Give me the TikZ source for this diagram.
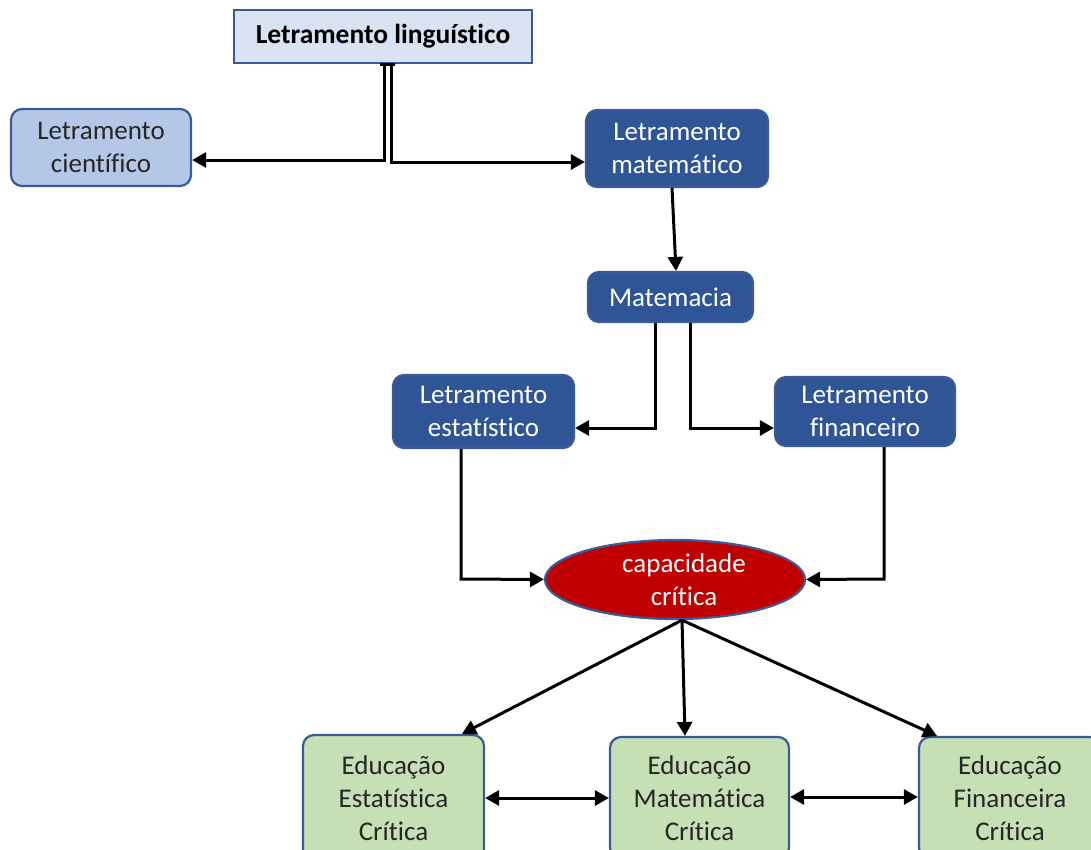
\documentclass[tikz,border=0pt]{standalone}
\usepackage{fontspec}
\setmainfont{Carlito}[Ligatures=NoCommon]
\usetikzlibrary{arrows.meta,shapes.geometric,calc}
\definecolor{bordc}{HTML}{3A5A98}
\definecolor{dkblue}{HTML}{2F5597}
\definecolor{ltblue}{HTML}{B4C7E7}
\definecolor{vltblue}{HTML}{DAE3F3}
\definecolor{ltgreen}{HTML}{C5E0B4}
\definecolor{dkred}{HTML}{C00000}
\begin{document}
\begin{tikzpicture}[x=1pt,y=-1pt,
  base/.style={draw=bordc, line width=2.2pt, align=center, inner sep=0pt,
    font=\fontsize{27}{33}\selectfont},
  rbox/.style={base, rounded corners=11pt},
  darkbox/.style={rbox, fill=dkblue, text=white},
  greenbox/.style={rbox, fill=ltgreen, text=black!85},
  conn/.style={line width=3pt, draw=black},
  arr/.style={conn, -{Triangle[length=14pt,width=15pt]}},
  darr/.style={conn, {Triangle[length=14pt,width=15pt]}-{Triangle[length=14pt,width=15pt]}}]
\path[use as bounding box, clip] (0,0) rectangle (1091,849);
\fill[white] (0,0) rectangle (1091,849);

\node[base, fill=vltblue, minimum width=298pt, minimum height=53pt,
  font=\fontsize{27.5}{33}\selectfont\bfseries] (ling) at (383,36.5) {Letramento linguístico};
\node[rbox, fill=ltblue, text=black!85, minimum width=180pt, minimum height=77pt] (cien) at (101,147.5) {Letramento\\científico};
\node[darkbox, minimum width=182pt, minimum height=77pt] (mat) at (677,148.5) {Letramento\\matemático};
\node[darkbox, minimum width=165pt, minimum height=50pt] (matm) at (670.5,297) {Matemacia};
\node[darkbox, minimum width=181pt, minimum height=73pt] (est) at (483.5,411.5) {Letramento\\estatístico};
\node[darkbox, minimum width=180pt, minimum height=69pt] (fin) at (865,411.5) {Letramento\\financeiro};
\node[ellipse, draw=bordc, line width=2.2pt, fill=dkred, text=white, inner sep=0pt,
  minimum width=260pt, minimum height=79pt, align=center,
  font=\fontsize{27}{33}\selectfont] (ell) at (675,579.5) {};
\node[align=center, text=white, font=\fontsize{27}{33}\selectfont] (elltext) at (684,580) {capacidade\\crítica};
\node[greenbox, minimum width=181pt, minimum height=126pt] (eec) at (393.5,798) {Educação\\Estatística\\Crítica};
\node[greenbox, minimum width=179pt, minimum height=122pt] (emc) at (699.5,798) {Educação\\Matemática\\Crítica};
\node[greenbox, minimum width=182pt, minimum height=122pt] (efc) at (1010,798) {Educação\\Financeira\\Crítica};

% top connectors (double stem)
\draw[conn] (380,0 |- ling.south) -- (395,0 |- ling.south);
\draw[arr] (384,0 |- ling.south) -- (384,160) -- (cien.east |- 0,160);
\draw[arr] (391,0 |- ling.south) -- (391,162) -- (mat.west |- 0,162);

\draw[arr] (672,0 |- mat.south) -- (676,0 |- matm.north);

\draw[arr] (655,0 |- matm.south) -- (655,428) -- (est.east |- 0,428);
\draw[arr] (690,0 |- matm.south) -- (690,428) -- (fin.west |- 0,428);

\draw[arr] (461,0 |- est.south) -- (461,579) -- (ell.west);
\draw[arr] (884,0 |- fin.south) -- (884,579) -- (ell.east);

\coordinate (ellb) at ($(ell.south)+(7,0)$);
\draw[arr] (ellb) -- (462,0 |- eec.north);
\draw[arr] (ellb) -- (685,0 |- emc.north);
\draw[arr] (ellb) -- (937,0 |- efc.north);

\draw[darr] (eec.east |- 0,798) -- (emc.west |- 0,798);
\draw[darr] (emc.east |- 0,797) -- (efc.west |- 0,797);
\end{tikzpicture}
\end{document}
